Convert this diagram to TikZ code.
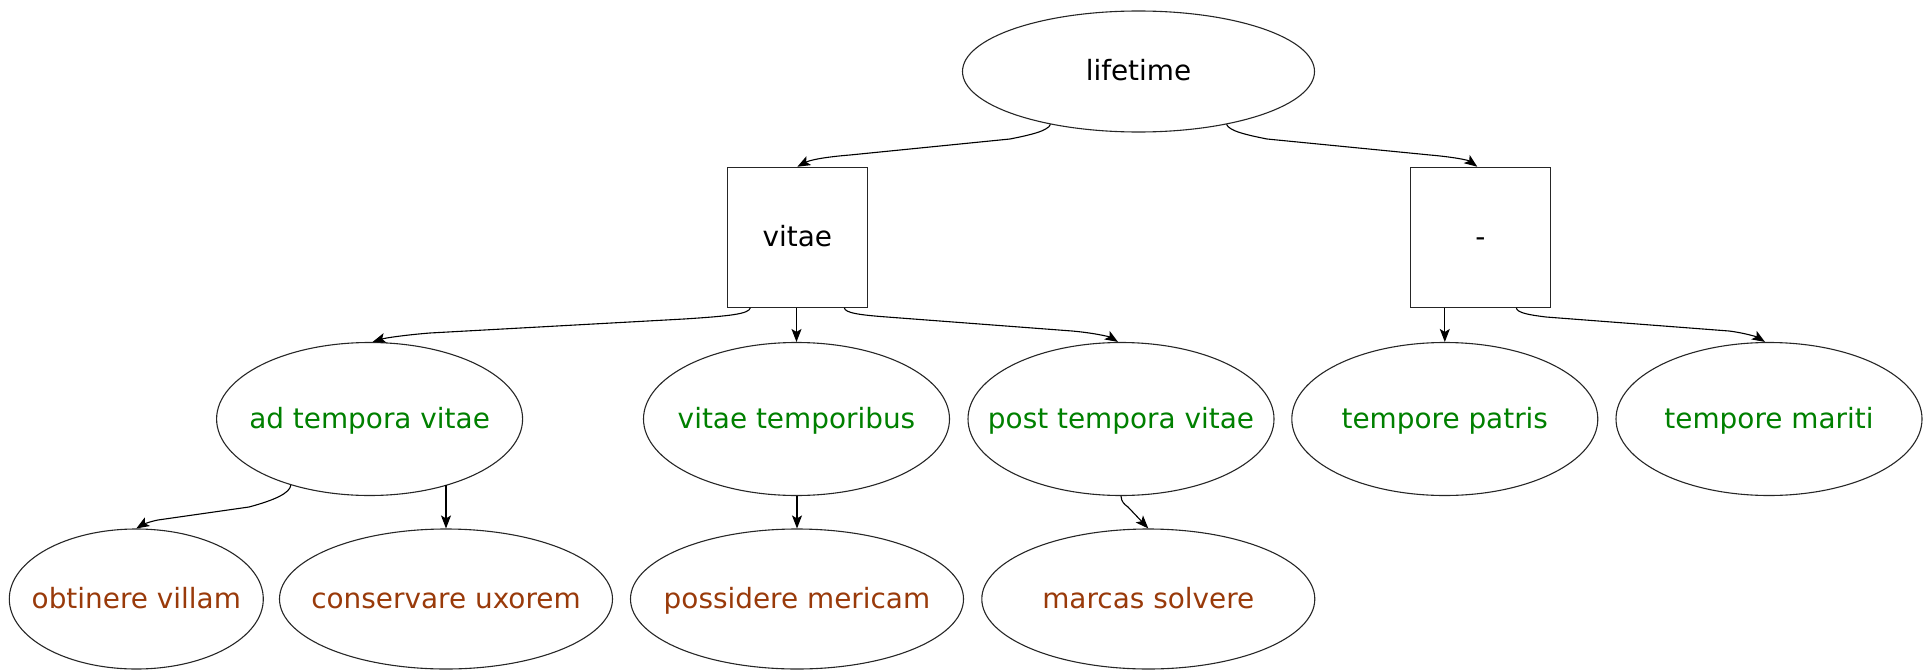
\documentclass[tikz,border=0pt]{standalone}
\usepackage{fontspec}
\setmainfont{DejaVu Sans}
\usetikzlibrary{shapes.geometric,arrows.meta}
\definecolor{leafgreen}{RGB}{0,128,0}
\definecolor{leafbrown}{RGB}{153,58,10}
\tikzset{
  base/.style={draw=black!85, line width=1.1pt, inner sep=0pt},
  ell/.style={base, ellipse, minimum width=#1},
  row2/.style={ell=306pt, minimum height=153pt},
  row3/.style={ell=#1, minimum height=140pt},
  txt/.style={font=\fontsize{27.9}{33}\selectfont, text height=24pt, text depth=5pt, inner sep=0pt},
  boxnode/.style={base, rectangle, minimum width=140pt, minimum height=140pt, txt},
  gtxt/.style={txt, text=leafgreen},
  btxt/.style={txt, text=leafbrown},
  ktxt/.style={txt, text=black},
  edge/.style={draw=black, line width=1.1pt, -{Stealth[length=13pt,width=10pt,inset=3pt]}},
}
\begin{document}
\begin{tikzpicture}[x=1pt,y=-1pt]
\useasboundingbox (0,0) rectangle (1932,669);
% nodes
\node[ell=352pt, minimum height=121pt, label={[ktxt]center:lifetime}] (life) at (1138.5,71.5) {};
\node[boxnode] (vitae) at (797.3,237.3) {vitae};
\node[boxnode] (dash) at (1480.3,237.3) {-};
\node[row2, label={[gtxt]center:ad tempora vitae}] (adtv) at (369.6,419) {};
\node[row2, label={[gtxt]center:vitae temporibus}] (vtemp) at (796.5,419) {};
\node[row2, label={[gtxt]center:post tempora vitae}] (post) at (1121,419) {};
\node[row2, label={[gtxt]center:tempore patris}] (patris) at (1444.8,419) {};
\node[row2, label={[gtxt]center:tempore mariti}] (mariti) at (1769,419) {};
\node[row3=254pt, label={[btxt]center:obtinere villam}] (obt) at (136.3,599) {};
\node[row3=333pt, label={[btxt]center:conservare uxorem}] (cons) at (446,599) {};
\node[row3=333pt, label={[btxt]center:possidere mericam}] (poss) at (797,599) {};
\node[row3=333pt, label={[btxt]center:marcas solvere}] (marc) at (1148.3,599) {};
% edges
\draw[edge] (life.211) .. controls (1048,131) and (1030,135) .. (1010,139) -- (850,155) .. controls (825,157) and (810,160) .. (vitae.north);
\draw[edge] (life.329) .. controls (1229,131) and (1247,135) .. (1267,139) -- (1430,155) .. controls (1453,157) and (1468,160) .. ([xshift=-3pt]dash.north);
\draw[edge] ([xshift=-47pt]vitae.south) .. controls (749,314) and (730,316) .. (684,319) -- (430,333) .. controls (405,335) and (385,338) .. ([xshift=3pt]adtv.north);
\draw[edge] (vitae.south -| vtemp.north) -- (vtemp.north);
\draw[edge] ([xshift=47pt]vitae.south) .. controls (845,313) and (860,315) .. (887,317) -- (1072,331) .. controls (1095,333) and (1110,337) .. ([xshift=-3pt]post.north);
\draw[edge] (dash.south -| patris.north) -- (patris.north);
\draw[edge] ([xshift=36pt]dash.south) .. controls (1517,313) and (1530,315) .. (1546,317) -- (1729,331) .. controls (1745,333) and (1757,337) .. ([xshift=-4pt]mariti.north);
\draw[edge] (adtv.220) .. controls (290,493) and (275,500) .. (249,507) -- (158,520) .. controls (148,522) and (142,525) .. (obt.north);
\draw[edge] (adtv.-40.6 -| cons.north) -- (cons.north);
\draw[edge] (vtemp.south -| poss.north) -- (poss.north);
\draw[edge] (post.south) .. controls (1121.5,502) and (1124,504) .. (1128,507) -- (marc.north);
\end{tikzpicture}
\end{document}
